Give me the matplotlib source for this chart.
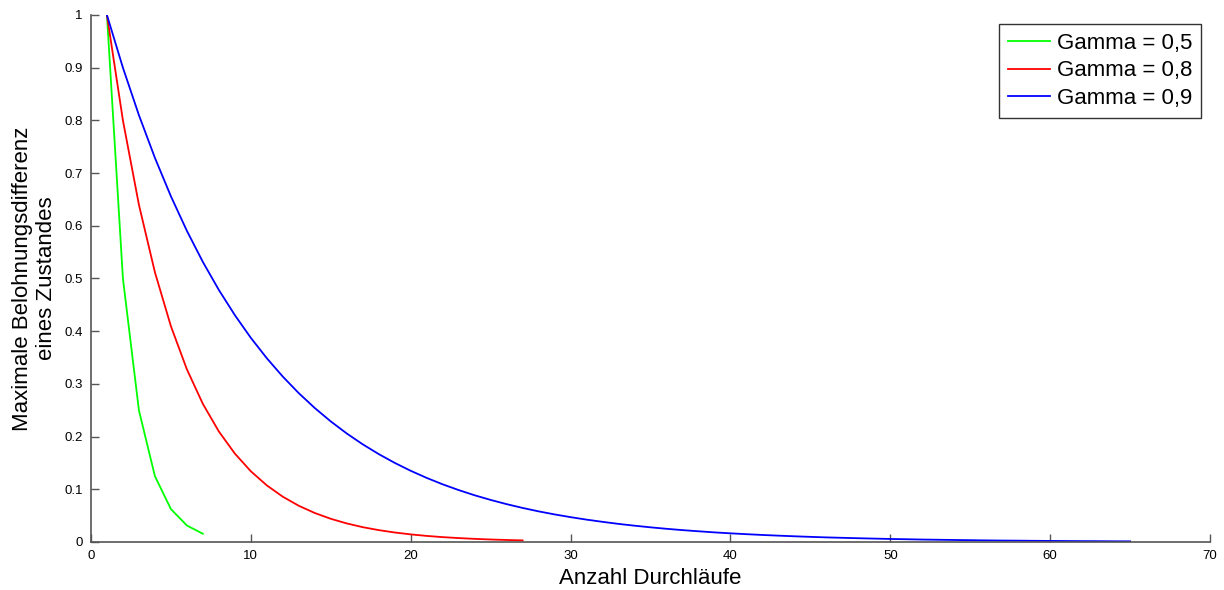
import numpy as np
import matplotlib
matplotlib.use("Agg")
import matplotlib.pyplot as plt

plt.rcParams['font.family'] = ['Liberation Sans', 'DejaVu Sans']

# maximale Belohnungsdifferenz pro Durchlauf
gamma_05 = [1, 0.5, 0.25, 0.125, 0.0625, 0.0313, 0.0156]
gamma_08 = [1, 0.8, 0.64, 0.512, 0.4096, 0.3277, 0.2621, 0.2097, 0.1678, 0.1342,
            0.1074, 0.0859, 0.0687, 0.0550, 0.0440, 0.0352, 0.0281, 0.0225, 0.0180,
            0.0144, 0.0115, 0.0092, 0.0074, 0.0059, 0.0047, 0.0038, 0.0030]
gamma_09 = [1, 0.9, 0.81, 0.729, 0.6561, 0.5905, 0.5314, 0.4783, 0.4305, 0.3874,
            0.3487, 0.3138, 0.2824, 0.2542, 0.2288, 0.2059, 0.1853, 0.1668, 0.1501,
            0.1351, 0.1216, 0.1094, 0.0985, 0.0886, 0.0798, 0.0718, 0.0646, 0.0581,
            0.0523, 0.0471, 0.0424, 0.0382, 0.0343, 0.0309, 0.0278, 0.0250, 0.0225,
            0.0203, 0.0182, 0.0164, 0.0148, 0.0133, 0.0120, 0.0108, 0.0097, 0.0087,
            0.0079, 0.0071, 0.0064, 0.0057, 0.0052, 0.0046, 0.0042, 0.0038, 0.0034,
            0.0030, 0.0027, 0.0025, 0.0022, 0.0020, 0.0018, 0.0016, 0.0015, 0.0013,
            0.0012]
labels = ['Gamma = 0,5', 'Gamma = 0,8', 'Gamma = 0,9']
colors = ['#00ff00', '#ff0000', '#0000ff']

xticks = list(range(0, 71, 10))
yticks = [0, 0.1, 0.2, 0.3, 0.4, 0.5, 0.6, 0.7, 0.8, 0.9, 1]
yticklabels = ['0', '0.1', '0.2', '0.3', '0.4', '0.5', '0.6', '0.7', '0.8', '0.9', '1']

fig = plt.figure(figsize=(12.24, 5.9), dpi=100)
ax = fig.add_axes([0.0743, 0.0814, 0.9143, 0.8932])

for ys, lab, col in zip([gamma_05, gamma_08, gamma_09], labels, colors):
    xs = np.arange(1, len(ys) + 1)
    ax.plot(xs, ys, color=col, lw=1.3, label=lab)

ax.set_xlim(0, 70)
ax.set_ylim(0, 1)
ax.set_xticks(xticks)
ax.set_yticks(yticks)
ax.set_yticklabels(yticklabels)
ax.tick_params(direction='in', length=6, width=1, color='#555555', labelsize=9.5, pad=6)
for s in ['top', 'right']:
    ax.spines[s].set_visible(False)
for s in ['left', 'bottom']:
    ax.spines[s].set_color('#555555')
    ax.spines[s].set_linewidth(1.2)

ax.set_xlabel('Anzahl Durchläufe', fontsize=16, labelpad=4)
ax.set_ylabel('Maximale Belohnungsdifferenz\neines Zustandes', fontsize=16, labelpad=5)

leg = ax.legend(loc='upper right', fontsize=16, frameon=True, fancybox=False,
                edgecolor='black', borderaxespad=0.4, handlelength=1.9,
                handletextpad=0.3, labelspacing=0.3, borderpad=0.4)
leg.get_frame().set_linewidth(1.0)

fig.savefig('out.png', dpi=100, facecolor='white')
